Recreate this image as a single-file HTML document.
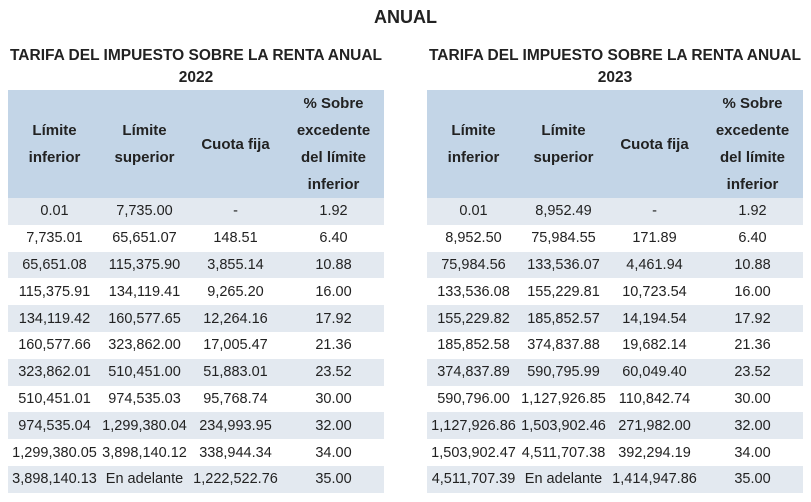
<!DOCTYPE html>
<html><head><meta charset="utf-8"><style>
body{margin:0;width:811px;height:502px;background:#fff;font-family:"Liberation Sans",sans-serif;color:#222;position:relative;overflow:hidden}
#title{position:absolute;left:0;width:811px;top:7px;text-align:center;font-weight:bold;font-size:18px}
.tb{position:absolute;top:45px;width:376px}
.tt{text-align:center;font-weight:bold;font-size:15.5px;line-height:22px;height:45px}
table{border-collapse:collapse;width:376px;table-layout:fixed;font-size:14.5px}
th{background:#c3d5e7;font-weight:bold;font-size:15px;height:106px;line-height:27px;padding:0;text-align:center}
td{height:26.8px;padding:0;text-align:center;white-space:nowrap}
tr.s td{background:#e3e9f0}
</style></head><body>
<div id="title">ANUAL</div>
<div class="tb" style="left:8px">
<div class="tt">TARIFA DEL IMPUESTO SOBRE LA RENTA ANUAL<br>2022</div>
<table id="t1"><colgroup><col style="width:93px"><col style="width:87px"><col style="width:95px"><col style="width:101px"></colgroup>
<tr><th>Límite<br>inferior</th><th>Límite<br>superior</th><th>Cuota fija</th><th>% Sobre<br>excedente<br>del límite<br>inferior</th></tr>
</table></div>
<div class="tb" style="left:427px">
<div class="tt">TARIFA DEL IMPUESTO SOBRE LA RENTA ANUAL<br>2023</div>
<table id="t2"><colgroup><col style="width:93px"><col style="width:87px"><col style="width:95px"><col style="width:101px"></colgroup>
<tr><th>Límite<br>inferior</th><th>Límite<br>superior</th><th>Cuota fija</th><th>% Sobre<br>excedente<br>del límite<br>inferior</th></tr>
</table></div>
<script>
const inf2022=["0.01","7,735.01","65,651.08","115,375.91","134,119.42","160,577.66","323,862.01","510,451.01","974,535.04","1,299,380.05","3,898,140.13"];
const sup2022=["7,735.00","65,651.07","115,375.90","134,119.41","160,577.65","323,862.00","510,451.00","974,535.03","1,299,380.04","3,898,140.12","En adelante"];
const cuota2022=["-","148.51","3,855.14","9,265.20","12,264.16","17,005.47","51,883.01","95,768.74","234,993.95","338,944.34","1,222,522.76"];
const pct=["1.92","6.40","10.88","16.00","17.92","21.36","23.52","30.00","32.00","34.00","35.00"];
const inf2023=["0.01","8,952.50","75,984.56","133,536.08","155,229.82","185,852.58","374,837.89","590,796.00","1,127,926.86","1,503,902.47","4,511,707.39"];
const sup2023=["8,952.49","75,984.55","133,536.07","155,229.81","185,852.57","374,837.88","590,795.99","1,127,926.85","1,503,902.46","4,511,707.38","En adelante"];
const cuota2023=["-","171.89","4,461.94","10,723.54","14,194.54","19,682.14","60,049.40","110,842.74","271,982.00","392,294.19","1,414,947.86"];
function fill(id,a,b,c,d){
  const t=document.getElementById(id);
  for(let i=0;i<a.length;i++){
    const tr=document.createElement('tr');
    if(i%2==0)tr.className='s';
    
    
    [a[i],b[i],c[i],d[i]].forEach(v=>{const td=document.createElement('td');td.textContent=v;
      
      
      tr.appendChild(td);});
    t.appendChild(tr);
  }
}
fill('t1',inf2022,sup2022,cuota2022,pct);
fill('t2',inf2023,sup2023,cuota2023,pct);
</script>
</body></html>
